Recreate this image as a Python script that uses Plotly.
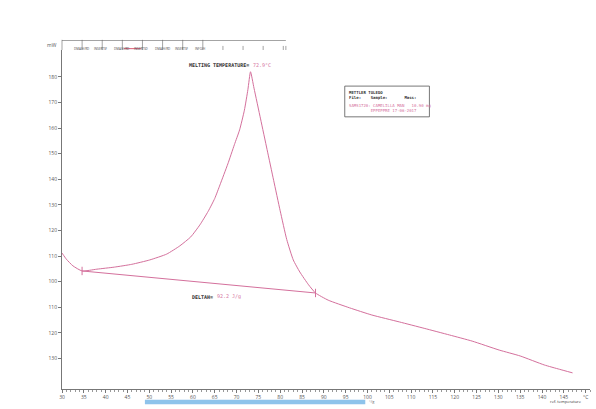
import plotly.graph_objects as go

# DSC curve (temperature in °C, heat flow in mW)
temp = [30.0, 31.0, 32.5, 34.6, 38.0, 42.0, 46.0, 50.1, 54.0, 57.0, 59.5, 61.6, 63.5, 65.0, 66.2, 68.0,
        69.5, 70.7, 71.8, 72.6, 73.2, 74.0, 75.5, 77.0, 78.5, 80.0, 81.5, 83.0, 84.5, 86.5, 88.1, 91.0,
        95.9, 101.0, 107.3, 113.0, 118.8, 124.0, 130.2, 135.0, 140.5, 144.0, 147.0]
heat = [111.2, 108.8, 106.2, 104.2, 104.9, 105.7, 106.8, 108.5, 110.8, 114.0, 117.5, 122.2, 127.5, 132.5, 137.8, 146.0,
        153.5, 159.3, 167.0, 175.0, 182.0, 175.6, 163.6, 151.6, 139.6, 127.7, 116.5, 108.5, 103.8, 98.8, 95.6, 92.8,
        89.8, 87.0, 84.3, 81.8, 79.2, 76.8, 73.3, 71.0, 67.5, 65.8, 64.4]
base_temp = [34.6, 88.1]
base_heat = [104.2, 95.6]

y_ticks = [180, 170, 160, 150, 140, 130, 120, 110, 100, 90, 80, 70]
y_text = ["180", "170", "160", "150", "140", "130", "120", "110", "100", "110", "120", "130"]
x_ticks = [30, 35, 40, 45, 50, 55, 60, 65, 70, 75, 80, 85, 90, 95, 100, 105, 110, 115, 120, 125, 130, 135, 140, 145, 150]
x_text = [str(v) for v in x_ticks[:-1]] + ["°C"]
header_labels = ["DMA/H/RD", "INSERTSF", "DMA/H/RD", "INSERTSD", "DMA/H/RD", "INSERTSF", "INFO/H"]

line_color = "#d4709c"
fig = go.Figure()
fig.add_trace(go.Scatter(x=temp, y=heat, mode="lines", line=dict(color=line_color, width=1, shape="spline", smoothing=0.5),
                         hoverinfo="skip"))
fig.add_trace(go.Scatter(x=base_temp, y=base_heat, mode="lines", line=dict(color=line_color, width=1), hoverinfo="skip"))
fig.add_trace(go.Scatter(x=base_temp, y=base_heat, mode="markers",
                         marker=dict(symbol="line-ns", size=6, line=dict(color=line_color, width=1)), hoverinfo="skip"))

mono = "DejaVu Sans Mono"
ann = []
ann.append(dict(x=73.3, y=184.5, xref="x", yref="y", showarrow=False, xanchor="right",
                text="<b>MELTING TEMPERATURE=</b>", font=dict(size=5, color="#333", family=mono)))
ann.append(dict(x=73.3, y=184.5, xref="x", yref="y", showarrow=False, xanchor="left",
                text="72.9°C", font=dict(size=5, color=line_color, family=mono)))
ann.append(dict(x=65.0, y=94.1, xref="x", yref="y", showarrow=False, xanchor="right",
                text="<b>DELTAH=</b>", font=dict(size=5, color="#333", family=mono)))
ann.append(dict(x=65.0, y=94.1, xref="x", yref="y", showarrow=False, xanchor="left",
                text="92.2 J/g", font=dict(size=5, color=line_color, family=mono)))
ann.append(dict(x=-0.005, y=1.0, xref="paper", yref="paper", showarrow=False, xanchor="right", yanchor="bottom",
                text="mW", font=dict(size=5, color="#555")))
ann.append(dict(x=145.5, y=-0.036, xref="x", yref="paper", showarrow=False, xanchor="center", yanchor="middle",
                text="ref. temperature", font=dict(size=4, color="#333")))
ann.append(dict(x=100.0, y=-0.036, xref="x", yref="paper", showarrow=False, xanchor="left", yanchor="middle",
                text="°/g", font=dict(size=4, color="#666")))
# Info box text
ann.append(dict(x=95.4, y=175.6, xref="x", yref="y", showarrow=False, xanchor="left", yanchor="top", align="left",
                text="<b>METTLER TOLEDO</b><br><b>File:    Sample:       Mass:</b>",
                font=dict(size=4, color="#333", family=mono)))
ann.append(dict(x=95.4, y=170.6, xref="x", yref="y", showarrow=False, xanchor="left", yanchor="top", align="left",
                text="SAMS1720: CAMELILLA MAN   10.90 mg<br>         EPPEPPRE 17-06-2017",
                font=dict(size=4, color=line_color, family=mono)))

shapes = []
shapes.append(dict(type="rect", x0=94.8, x1=114.2, y0=164.4, y1=176.4, xref="x", yref="y",
                   line=dict(color="#555", width=0.8)))
# header strip
px0, px1 = 0.0, 0.424
shapes.append(dict(type="line", x0=px0, x1=px1, y0=1.028, y1=1.028, xref="paper", yref="paper",
                   line=dict(color="#666", width=0.6)))
seg = 0.0381
for i in range(13):
    xx = px0 + i * seg if i < 12 else px1
    shapes.append(dict(type="line", x0=xx, x1=xx, y0=1.0, y1=1.03 if i <= 7 else 1.012, xref="paper", yref="paper",
                       line=dict(color="#666", width=0.6)))
for i, lab in enumerate(header_labels):
    ann.append(dict(x=px0 + (i + 0.5) * seg, y=1.015, xref="paper", yref="paper", showarrow=False,
                    text=lab, font=dict(size=3, color="#444")))
shapes.append(dict(type="line", x0=px0 + 3 * seg + 0.003, x1=px0 + 4 * seg - 0.003, y0=1.004, y1=1.004,
                   xref="paper", yref="paper", line=dict(color="#d03050", width=0.8)))
# blue scan bar under the axis
shapes.append(dict(type="rect", x0=49, x1=99.5, y0=-0.045, y1=-0.032, xref="x", yref="paper",
                   fillcolor="#7ab8e8", line=dict(width=0), opacity=0.85))

fig.update_layout(
    width=596, height=409, margin=dict(l=62, r=6, t=50, b=20),
    paper_bgcolor="white", plot_bgcolor="white", showlegend=False,
    annotations=ann, shapes=shapes,
    xaxis=dict(range=[30, 151], tickvals=x_ticks, ticktext=x_text, showgrid=False, zeroline=False,
               showline=True, linecolor="#777", linewidth=1, ticks="outside", ticklen=3, tickcolor="#777",
               tickfont=dict(size=5, color="#555"),
               minor=dict(dtick=1, ticks="outside", ticklen=2, tickcolor="#999")),
    yaxis=dict(range=[58.1, 190.5], tickvals=y_ticks, ticktext=y_text, showgrid=False, zeroline=False,
               showline=True, linecolor="#777", linewidth=1, ticks="outside", ticklen=3, tickcolor="#777",
               tickfont=dict(size=5, color="#555")),
)
fig.write_html("out.html")
